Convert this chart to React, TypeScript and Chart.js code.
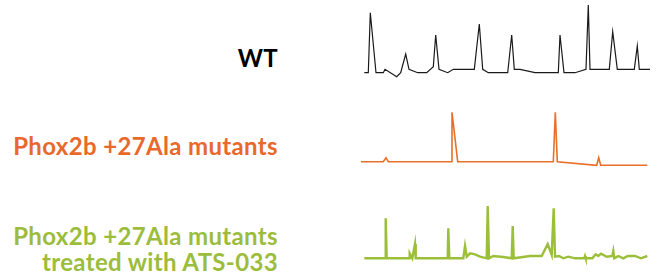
import React, { useEffect, useRef } from "react";
import { Chart, registerables } from "chart.js";

Chart.register(...registerables);

// Time axis (arbitrary units, 0–300) and signal amplitude (relative to baseline)
const wtTime = [9.3, 13.3, 15.3, 21, 28.3, 30, 41.7, 45.7, 50.7, 54, 62.7, 71.7, 78.3, 80.7, 84, 92.7, 98.3, 119.3, 124.3, 127.7, 133.3, 152.7, 156.7, 159.3, 165, 180, 203.3, 205, 209, 220, 231, 233.3, 235, 254.3, 257.7, 262.3, 279.3, 282.3, 284.3, 295];
const wtSignal = [0, 0, 60, 0, 0, 3.4, -4, 0, 18.7, 3.4, 0, 0, 6, 37.7, 3.4, 0, 3.4, 3.4, 48.7, 3.4, 0, 0, 37.7, 3.4, 3.4, 0, 0, 37.7, 0, 0, 3.4, 67.7, 3.4, 3.4, 41, 3.4, 3.4, 26.7, 3.4, 3.4];

const mutTime = [6, 28.3, 31, 33.3, 96.7, 97, 102.7, 198.3, 200.3, 202.3, 241.7, 243.7, 245.7, 292.3];
const mutSignal = [0, 0, 4, 0, 0, 49.4, 0, 0, 49.4, 0, -3.6, 4, -3.6, -3.6];

const atsTime = [9.3, 30, 30.7, 31.7, 54, 54.7, 57.3, 60, 60.7, 92.7, 93.3, 94.3, 108.3, 110, 111.7, 115, 120, 125, 131.7, 132.7, 134, 138.3, 148.3, 156.7, 157.7, 158.7, 175, 186.7, 192.7, 196.7, 198.7, 200, 204, 208.3, 213.3, 220, 229.3, 230, 230.7, 237.3, 240.7, 243.3, 246, 251.7, 257.3, 258.3, 259.3, 263.3, 268.3, 272.7, 280, 286, 292.3];
const atsSignal = [0, 0, 40, 0, 0, 5, 0, 14.3, 0, 0, 30, 0, 0, 12.3, 1.6, 5, 4, 1.6, 0, 52.3, 0, 2.3, 1.3, 0, 32.3, 0, 2.3, 2.3, 14.3, 3.3, 50, 1.6, 2.3, 0, 1.6, 0, 0, 2.3, 0, 0, 4, 2.3, 4.6, 1.6, 2.3, 7.3, 0, 2.3, 0, 2.3, 2.3, 0, 2.3];

const labels = ["WT", "Phox2b +27Ala mutants", "Phox2b +27Ala mutants\ntreated with ATS-033"];

type TraceProps = {
  time: number[];
  signal: number[];
  color: string;
  width: number;
  yMin: number;
  yMax: number;
  top: number;
  height: number;
};

function Trace({ time, signal, color, width, yMin, yMax, top, height }: TraceProps) {
  const ref = useRef<HTMLCanvasElement>(null);
  useEffect(() => {
    if (!ref.current) return;
    const chart = new Chart(ref.current, {
      type: "line",
      data: {
        datasets: [
          {
            data: time.map((t, i) => ({ x: t, y: signal[i] })),
            borderColor: color,
            borderWidth: width,
            pointRadius: 0,
            tension: 0,
            fill: false,
          },
        ],
      },
      options: {
        responsive: false,
        animation: false,
        layout: { padding: 0 },
        plugins: { legend: { display: false }, tooltip: { enabled: false } },
        scales: {
          x: { type: "linear", min: 0, max: 300, display: false },
          y: { type: "linear", min: yMin, max: yMax, display: false },
        },
      },
    });
    return () => chart.destroy();
  }, []);
  return (
    <canvas
      ref={ref}
      width={300}
      height={height}
      style={{ position: "absolute", left: 355, top, width: 300, height }}
    />
  );
}

const labelStyle: React.CSSProperties = {
  position: "absolute",
  left: 0,
  width: 278,
  textAlign: "right",
  fontFamily: "Lato, 'Open Sans', sans-serif",
  fontWeight: 700,
  fontSize: 24,
  letterSpacing: "0.35px",
  lineHeight: "26.7px",
  whiteSpace: "pre",
};

export default function App() {
  return (
    <div style={{ position: "fixed", left: 0, top: 0, width: 659, height: 278, background: "#fff", overflow: "hidden" }}>
      <div style={{ ...labelStyle, top: 44.7, color: "#000" }}>{labels[0]}</div>
      <div style={{ ...labelStyle, top: 132.7, color: "#e8692b" }}>{labels[1]}</div>
      <div style={{ ...labelStyle, top: 222.7, color: "#9cbd3c" }}>{labels[2]}</div>
      <Trace time={wtTime} signal={wtSignal} color="#1a1a1a" width={1.2} yMin={-17.3} yMax={72.7} top={0} height={90} />
      <Trace time={mutTime} signal={mutSignal} color="#e8702a" width={1.6} yMin={-8.3} yMax={61.7} top={100} height={70} />
      <Trace time={atsTime} signal={atsSignal} color="#9cbf3a" width={2.4} yMin={-11.7} yMax={63.3} top={195} height={75} />
    </div>
  );
}
